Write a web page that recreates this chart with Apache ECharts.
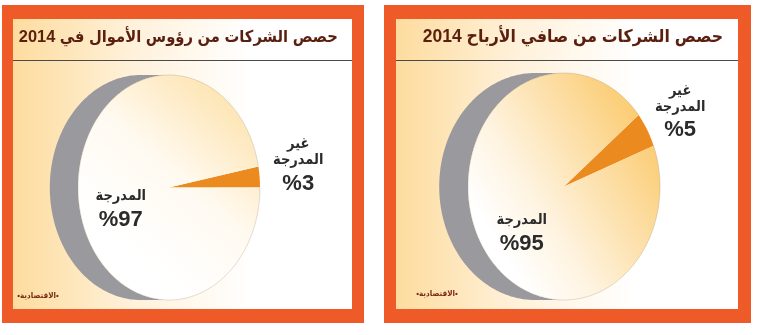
<!DOCTYPE html>
<html lang="ar">
<head>
<meta charset="utf-8">
<script src="https://cdn.jsdelivr.net/npm/echarts@6/dist/echarts.min.js"></script>
<style>
  html, body { margin: 0; padding: 0; background: #ffffff; }
  #chart { width: 759px; height: 335px; }
</style>
</head>
<body>
<div id="chart"></div>
<script>
// Listed vs. unlisted companies, shares for 2014
const capitalTitle = 'حصص الشركات من رؤوس الأموال في 2014';
const profitTitle = 'حصص الشركات من صافي الأرباح 2014';
const sourceText = '•الاقتصادية•';
const sliceNames = ['غير\nالمدرجة', 'المدرجة'];
const capitalShares = [3, 97];
const profitShares = [5, 95];

const FONT = "'Liberation Sans', 'DejaVu Sans Condensed', 'DejaVu Sans', sans-serif";
const ORANGE_FRAME = '#ef5a29';
const SLICE_ORANGE = '#eb8b1f';
const SIDE_GREY = '#9a9a9e';
const TITLE_COLOR = '#5a1f0f';
const LABEL_COLOR = '#2b2b2b';

// Frame, pie placement and label anchors for each panel
const panels = [
  {
    title: capitalTitle, values: capitalShares, titleSize: 16.4,
    outer: [2, 5, 362, 318], inner: [13, 19, 339, 290], lineY: 60,
    titleX: 338, titleY: 37, sourceX: 38, sourceY: 296,
    grid: { left: 78, top: 75, width: 182, height: 225 },
    startAngle: 0, depth: 0.31,
    labelAt: [[1.42, 0.175], [-0.53, -0.215]],
    faceStops: [[0, '#ffffff'], [0.45, '#fffaf1'], [1, '#fde2ab']],
    faceDir: [0.3, 0.8, 1, 0.15]
  },
  {
    title: profitTitle, values: profitShares, titleSize: 17.5,
    outer: [384, 5, 367, 318], inner: [396, 19, 342, 290], lineY: 60,
    titleX: 723, titleY: 37, sourceX: 437, sourceY: 294,
    grid: { left: 468, top: 73, width: 192, height: 227 },
    startAngle: 21, depth: 0.30,
    labelAt: [[1.21, 0.637], [-0.44, -0.433]],
    faceStops: [[0, '#ffffff'], [0.3, '#fef3df'], [1, '#fbcb70']],
    faceDir: [0.15, 0.75, 1, 0.3]
  }
];

function gradient(x, y, x2, y2, stops) {
  return new echarts.graphic.LinearGradient(x, y, x2, y2,
    stops.map(s => ({ offset: s[0], color: s[1] })));
}

function panelGraphics(p) {
  const [ox, oy, ow, oh] = p.outer;
  const [ix, iy, iw, ih] = p.inner;
  return [
    { type: 'rect', shape: { x: ox, y: oy, width: ow, height: oh }, style: { fill: ORANGE_FRAME } },
    { type: 'rect', shape: { x: ix, y: iy, width: iw, height: ih },
      style: { fill: gradient(0, 0, 1, 0, [[0, '#fddc9e'], [0.35, '#fff1da'], [0.7, '#ffffff'], [1, '#ffffff']]) } },
    { type: 'line', shape: { x1: ix, y1: p.lineY + 0.5, x2: ix + iw, y2: p.lineY + 0.5 },
      style: { stroke: '#4a4a4a', lineWidth: 1 } },
    { type: 'text', x: p.titleX, y: p.titleY,
      style: { text: p.title, align: 'right', verticalAlign: 'middle',
        font: 'bold ' + p.titleSize + 'px ' + FONT, fill: TITLE_COLOR } },
    { type: 'text', x: p.sourceX, y: p.sourceY,
      style: { text: sourceText, align: 'center', verticalAlign: 'middle',
        font: 'bold 8px ' + FONT, fill: '#7a2a12' } }
  ];
}

function pieSeries(p, gridIndex) {
  const values = p.values;
  const total = values.reduce((a, b) => a + b, 0);
  return {
    type: 'custom',
    coordinateSystem: 'cartesian2d',
    xAxisIndex: gridIndex,
    yAxisIndex: gridIndex,
    clip: false,
    data: values.map((v, i) => ({ name: sliceNames[i], value: [0, 0, v] })),
    renderItem: function (params, api) {
      const i = params.dataIndex;
      let before = 0;
      for (let k = 0; k < i; k++) before += values[k];
      const a0 = p.startAngle + before / total * 360;
      const a1 = a0 + api.value(2) / total * 360;
      const pt = (deg, dx) => {
        const r = deg * Math.PI / 180;
        return api.coord([(dx || 0) + Math.cos(r), Math.sin(r)]);
      };
      const children = [];
      const isMain = i === values.length - 1;

      if (isMain) {
        // visible rim of the disc, on its left half
        const side = [];
        for (let d = 90; d <= 270; d += 1) side.push(pt(d, -p.depth));
        for (let d = 270; d >= 90; d -= 1) side.push(pt(d, 0));
        children.push({ type: 'polygon', shape: { points: side }, style: { fill: SIDE_GREY } });
      }

      const face = [api.coord([0, 0])];
      const arc = [];
      for (let d = a0; d < a1; d += 0.5) { face.push(pt(d)); arc.push(pt(d)); }
      face.push(pt(a1)); arc.push(pt(a1));
      children.push({
        type: 'polygon', shape: { points: face },
        style: {
          fill: isMain ? gradient(p.faceDir[0], p.faceDir[1], p.faceDir[2], p.faceDir[3], p.faceStops) : SLICE_ORANGE
        }
      });
      if (isMain) {
        children.push({ type: 'polyline', shape: { points: arc },
          style: { stroke: 'rgba(150,135,110,0.35)', lineWidth: 0.8, fill: null } });
      }

      // slice label: name lines, then the share
      const pos = api.coord(p.labelAt[i]);
      const nameLines = sliceNames[i].split('\n').map(s => '{n|' + s + '}');
      children.push({
        type: 'text', x: pos[0], y: pos[1],
        style: {
          text: nameLines.join('\n') + '\n{v|%' + api.value(2) + '}',
          align: 'center', verticalAlign: 'middle', fill: LABEL_COLOR,
          rich: {
            n: { fontSize: 14.5, fontWeight: 'bold', fontFamily: FONT, lineHeight: 16, fill: LABEL_COLOR, align: 'center' },
            v: { fontSize: 22, fontWeight: 'bold', fontFamily: FONT, lineHeight: 31, fill: LABEL_COLOR, align: 'center' }
          }
        }
      });
      return { type: 'group', children: children };
    }
  };
}

const chart = echarts.init(document.getElementById('chart'), null, { renderer: 'canvas' });
const hiddenAxis = { type: 'value', min: -1, max: 1, show: false };
chart.setOption({
  animation: false,
  backgroundColor: '#ffffff',
  grid: panels.map(p => p.grid),
  xAxis: panels.map((p, i) => Object.assign({ gridIndex: i }, hiddenAxis)),
  yAxis: panels.map((p, i) => Object.assign({ gridIndex: i }, hiddenAxis)),
  graphic: { elements: panels.flatMap(panelGraphics) },
  series: panels.map((p, i) => pieSeries(p, i))
});
</script>
</body>
</html>
